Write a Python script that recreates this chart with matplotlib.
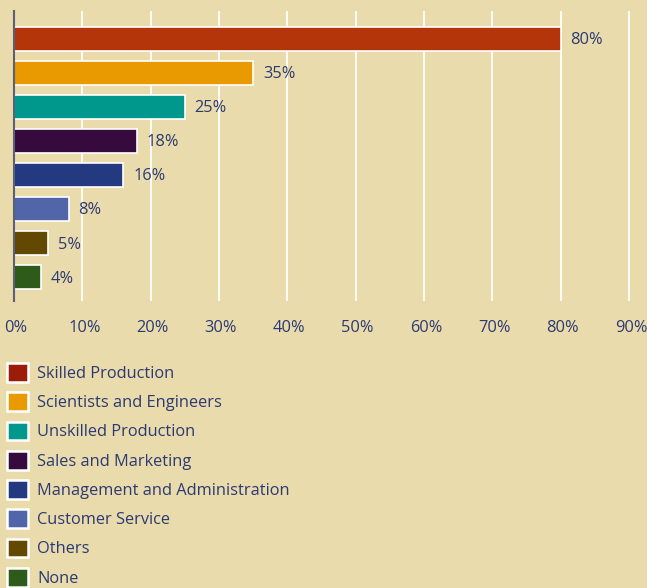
import matplotlib.pyplot as plt
from matplotlib.patches import Patch
from matplotlib.transforms import ScaledTranslation
import numpy as np

#-Colours-------------------------------------------
bg = "#e9dbac"
navy_text = "#2b3a72"
axis_line = "#5a6078"
#---------------------------------------------------

categories = ["Skilled Production", "Scientists and Engineers", "Unskilled Production",
              "Sales and Marketing", "Management and Administration", "Customer Service",
              "Others", "None"]
values = [80, 35, 25, 18, 16, 8, 5, 4]
bar_colors = ["#b5350a", "#e89a00", "#00988c", "#360a3c", "#243a80", "#5066a8", "#624800", "#2e5a1a"]
legend_colors = ["#9c1c0a", "#e89a00", "#00988c", "#360a3c", "#243a80", "#5066a8", "#624800", "#2e5a1a"]
xticks = [0, 10, 20, 30, 40, 50, 60, 70, 80, 90]

plt.rcParams['font.family'] = ['Open Sans', 'DejaVu Sans']
fs = 11.8

W, H = 647, 588
fig = plt.figure(figsize=(W / 100, H / 100), dpi=100, facecolor=bg)

# axes: 0% at x=14, 90% at x=629 ; top y=11, bottom y=301
x0, x90 = 14, 629
xmax = 92
ax_w = (x90 - x0) / 90 * xmax
ax = fig.add_axes([x0 / W, 1 - 301 / H, ax_w / W, (301 - 11) / H])
ax.set_facecolor(bg)

y = np.arange(len(categories))
ax.barh(y, values, height=0.7, color=bar_colors, edgecolor="white", linewidth=1.2, zorder=3)

for yi, v in zip(y, values):
    ax.annotate(f"{v}%", (v, yi), xytext=(7, -1), textcoords="offset points",
                va="center", ha="left", fontsize=fs, color=navy_text)

ax.set_xlim(0, xmax)
ax.set_ylim(7.7, -0.82)
ax.set_xticks(xticks)
ax.set_xticklabels([f"{t}%" for t in xticks])
ax.set_yticks([])
ax.grid(axis="x", color="white", linewidth=1.3, zorder=0)
ax.tick_params(axis="x", length=0, pad=14, labelsize=fs, labelcolor=navy_text)
shift = ScaledTranslation(2 / 100, 0, fig.dpi_scale_trans)
for lab in ax.get_xticklabels():
    lab.set_transform(lab.get_transform() + shift)
for s in ["top", "right", "bottom"]:
    ax.spines[s].set_visible(False)
ax.spines["left"].set_color(axis_line)
ax.spines["left"].set_linewidth(1.5)
ax.spines["left"].set_zorder(4)

handles = [Patch(facecolor=c, edgecolor="white", linewidth=1.8) for c in legend_colors]
fig.legend(handles, categories, loc="upper left", bbox_to_anchor=(7 / W, 1 - 363 / H),
           frameon=False, fontsize=fs, labelcolor=navy_text, borderpad=0, borderaxespad=0,
           handlelength=1.3, handleheight=1.4, handletextpad=0.55, labelspacing=0.63)

fig.savefig("out.png", dpi=100, facecolor=bg)
